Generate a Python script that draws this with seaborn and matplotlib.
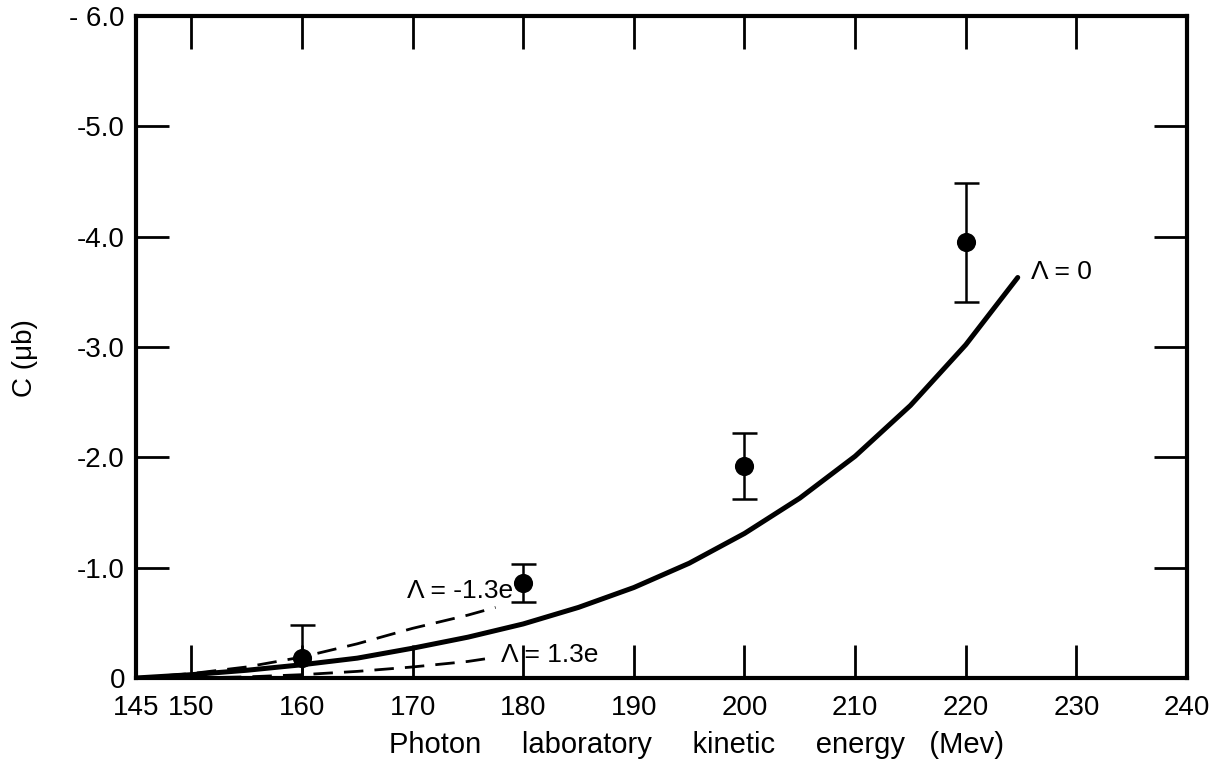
import numpy as np
import pandas as pd
import matplotlib
matplotlib.use("Agg")
import matplotlib.pyplot as plt
import seaborn as sns

# Measured asymmetry coefficient C at each photon energy
energy = [160, 180, 200, 220]
c_meas = [-0.18, -0.86, -1.92, -3.95]
c_err = [0.30, 0.17, 0.30, 0.54]

# Theory curve, Lambda = 0
th0_e = [145, 150, 155, 160, 165, 170, 175, 180, 185, 190, 195, 200, 205, 210, 215, 220, 224.7]
th0_c = [0.0, -0.03, -0.07, -0.12, -0.18, -0.27, -0.37, -0.49, -0.64, -0.82, -1.04, -1.31, -1.63, -2.01, -2.47, -3.02, -3.63]

# Theory curve, Lambda = -1.3e
thm_e = [145, 150, 155, 160, 165, 170, 175, 177.5]
thm_c = [0.0, -0.04, -0.10, -0.19, -0.31, -0.45, -0.57, -0.64]

# Theory curve, Lambda = +1.3e
thp_e = [150, 155, 160, 165, 170, 175, 177]
thp_c = [0.0, -0.01, -0.03, -0.06, -0.10, -0.15, -0.18]

x_ticks = [145, 150, 160, 170, 180, 190, 200, 210, 220, 230, 240]
y_ticks = [0, -1, -2, -3, -4, -5, -6]
y_ticklabels = ["0", "-1.0", "-2.0", "-3.0", "-4.0", "-5.0", "- 6.0"]

sns.set_style("ticks")
plt.rcParams["font.family"] = ["Liberation Sans", "DejaVu Sans"]
plt.rcParams["text.color"] = "black"
plt.rcParams["xtick.color"] = "black"
plt.rcParams["ytick.color"] = "black"
plt.rcParams["axes.labelcolor"] = "black"

fig = plt.figure(figsize=(12.26, 7.67), dpi=100)
ax = fig.add_axes([136 / 1226, 1 - 678 / 767, (1187 - 136) / 1226, (678 - 16) / 767])

sns.lineplot(x=th0_e, y=th0_c, ax=ax, color="black", lw=3.6, sort=False)
sns.lineplot(x=thm_e, y=thm_c, ax=ax, color="black", lw=2.0, sort=False)
sns.lineplot(x=thp_e, y=thp_c, ax=ax, color="black", lw=2.0, sort=False)
ax.lines[1].set_dashes((7, 4))
ax.lines[2].set_dashes((7, 4))

ax.errorbar(energy, c_meas, yerr=c_err, fmt="none", ecolor="black",
            elinewidth=1.8, capsize=9, capthick=1.8, zorder=3)
sns.scatterplot(x=energy, y=c_meas, ax=ax, color="black", s=190,
                edgecolor="black", linewidth=0, zorder=4)

ax.text(225.9, -3.68, "Λ = 0", fontsize=19, va="center", ha="left")
ax.text(169.5, -0.79, "Λ = -1.3e", fontsize=19, va="center", ha="left")
ax.text(178.0, -0.21, "Λ = 1.3e", fontsize=19, va="center", ha="left")

ax.set_xlim(145, 240)
ax.set_ylim(0, -6)
ax.set_xticks(x_ticks)
ax.set_xticklabels([str(t) for t in x_ticks], fontsize=20)
ax.set_yticks(y_ticks)
ax.set_yticklabels(y_ticklabels, fontsize=20)

ax.tick_params(direction="in", length=24, width=2.0, top=True, right=True,
               labeltop=False, labelright=False)
ax.tick_params(axis="x", pad=12)
ax.tick_params(axis="y", pad=8)
for side in ["left", "right", "top", "bottom"]:
    ax.spines[side].set_visible(True)
    ax.spines[side].set_linewidth(3.0)
    ax.spines[side].set_color("black")

fig.text(697 / 1226, 1 - 745 / 767,
         "Photon     laboratory     kinetic     energy   (Mev)",
         fontsize=21, ha="center", va="center")
fig.text(25 / 1226, 1 - 358 / 767, "C (μb)", fontsize=20, rotation=90,
         ha="center", va="center")

fig.savefig("out.png", dpi=100, facecolor="white")
